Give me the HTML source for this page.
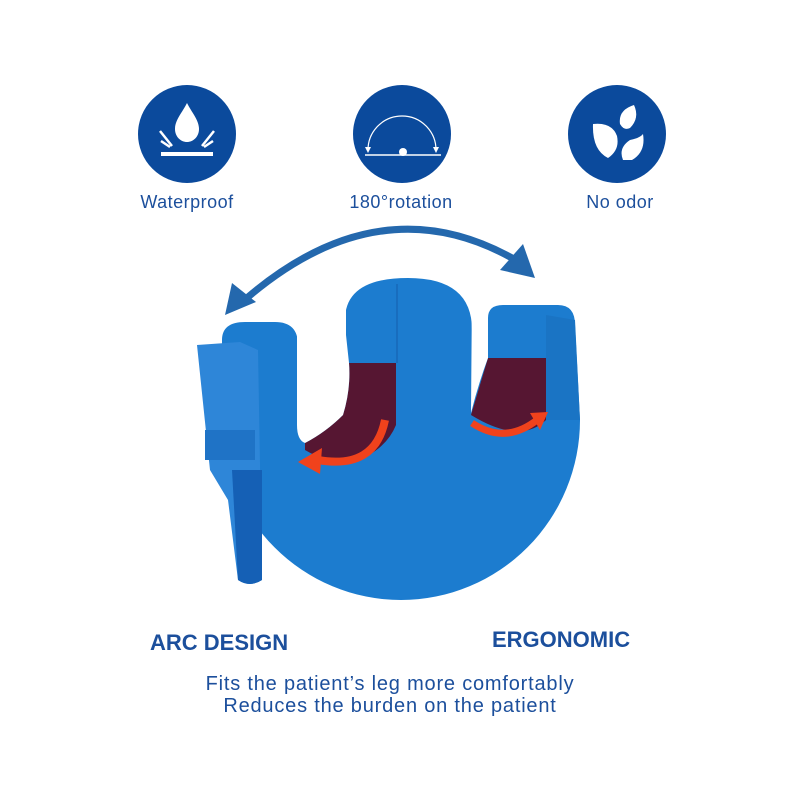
<!DOCTYPE html>
<html><head><meta charset="utf-8"><style>
html,body{margin:0;padding:0;background:#fff;}
svg{display:block;}
text{font-family:"Liberation Sans",sans-serif;fill:#1c4f9c;}
</style></head><body>
<svg width="800" height="800" viewBox="0 0 800 800" xmlns="http://www.w3.org/2000/svg">
<rect width="800" height="800" fill="#fff"/>
<!-- icons -->
<circle cx="187" cy="134" r="49" fill="#0b4a9c"/>
<path d="M187 103 C182 113 175 120 175 129 C175 137 181 142 187 142 C193 142 199 137 199 129 C199 120 192 113 187 103Z" fill="#fff"/>
<rect x="161" y="152" width="52" height="4" fill="#fff"/>
<path d="M160 131 L172 146 M161 141 L170 147 M214 131 L202 146 M213 141 L204 147" stroke="#fff" stroke-width="2.5"/>
<circle cx="402" cy="134" r="49" fill="#0b4a9c"/>
<path d="M368 150 A34 34 0 0 1 436 150" fill="none" stroke="#fff" stroke-width="1.2"/>
<path d="M365 147 L371 147 L368 153Z M433 147 L439 147 L436 153Z" fill="#fff"/>
<line x1="365" y1="155" x2="441" y2="155" stroke="#fff" stroke-width="1.5"/>
<circle cx="403" cy="152" r="4" fill="#fff"/>
<circle cx="617" cy="134" r="49" fill="#0b4a9c"/>
<path d="M593 124 Q612 122 617 136 Q620 150 608 158 Q592 150 593 124Z" fill="#fff"/>
<path d="M620 124 Q618 110 634 105 Q640 118 630 128 Q624 131 620 124Z" fill="#fff"/>
<path d="M623 160 Q618 148 630 140 Q640 138 643 134 Q646 152 632 160Z" fill="#fff"/>
<text x="187" y="208" font-size="18" text-anchor="middle" letter-spacing="0.5">Waterproof</text>
<text x="401" y="208" font-size="18" text-anchor="middle" letter-spacing="0.5">180°rotation</text>
<text x="620" y="208" font-size="18" text-anchor="middle" letter-spacing="0.5">No odor</text>
<!-- big arrow -->
<path d="M248 297 Q380 185 512 258" fill="none" stroke="#2468ad" stroke-width="7"/>
<path d="M225 315 L232 283 L256 302Z" fill="#2468ad"/>
<path d="M535 278 L500 270 L523 244Z" fill="#2468ad"/>
<!-- product body (gaps filled) -->
<path d="M222 420 L222 340 Q222 322 245 322 L275 322 Q298 322 298 345 L298 320 L345 320 Q345 278 408 278 Q472 278 472 330 L488 330 L488 318 Q488 305 503 305 L558 305 Q575 305 575 325 L580 420 A179 180 0 0 1 222 420Z" fill="#1c7ccf"/>
<!-- left mesh -->
<path d="M305 443 Q326 432 343 415 Q351 389 349 363 L396 363 L396 425 Q385 452 350 463 Q325 462 305 450Z" fill="#561632"/>
<!-- left white gap -->
<path d="M297 290 L346 290 L346 335 L349 363 Q351 389 343 415 Q326 432 305 443 Q297 440 297 425 Z" fill="#fff"/>
<!-- right mesh -->
<path d="M488 358 L546 358 L546 420 Q520 445 471 415 Z" fill="#561632"/>
<path d="M472 290 L488 290 L488 358 Q478 385 471 413 Z" fill="#fff"/>
<!-- right pad side shading -->
<path d="M546 315 L575 320 L580 420 L546 420Z" fill="#1a74c4"/>
<line x1="397" y1="284" x2="397" y2="363" stroke="#1668b8" stroke-width="1.5"/>
<!-- red arrows -->
<path d="M385 420 Q375 470 318 460" fill="none" stroke="#f0421c" stroke-width="8"/>
<path d="M298 462 L322 448 L320 474Z" fill="#f0421c"/>
<path d="M472 423 Q505 445 537 420" fill="none" stroke="#f0421c" stroke-width="7"/>
<path d="M548 412 L530 413 L540 430Z" fill="#f0421c"/>
<!-- left strap -->
<path d="M197 345 L240 342 L258 350 L262 580 Q250 588 238 580 L228 500 L210 470 Z" fill="#2e86d8"/>
<rect x="205" y="430" width="50" height="30" fill="#1f73c6"/>
<path d="M232 470 L262 470 L262 580 Q250 588 238 580Z" fill="#1560b5"/>
<!-- text -->
<text x="150" y="650" font-size="22" font-weight="bold">ARC DESIGN</text>
<text x="492" y="647" font-size="22" font-weight="bold">ERGONOMIC</text>
<text x="390" y="690" font-size="20" text-anchor="middle" letter-spacing="0.8">Fits the patient’s leg more comfortably</text>
<text x="390" y="712" font-size="20" text-anchor="middle" letter-spacing="0.8">Reduces the burden on the patient</text>
</svg>
</body></html>
